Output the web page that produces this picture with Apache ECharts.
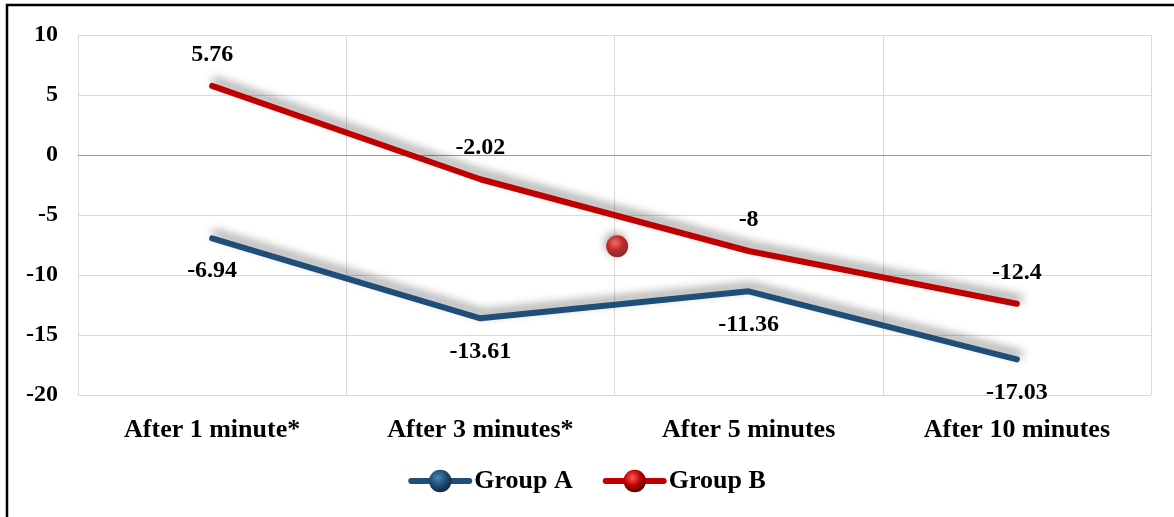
<!DOCTYPE html>
<html>
<head>
<meta charset="utf-8">
<script src="https://cdn.jsdelivr.net/npm/echarts@6/dist/echarts.min.js"></script>
<style>
  html, body { margin: 0; padding: 0; background: #fff; }
  #chart { width: 1174px; height: 517px; }
</style>
</head>
<body>
<div id="chart"></div>
<script>
// Time points after the intervention
const categories = ['After 1 minute*', 'After 3 minutes*', 'After 5 minutes', 'After 10 minutes'];
// Mean change per group
const groupA = [-6.94, -13.61, -11.36, -17.03];
const groupB = [5.76, -2.02, -8, -12.4];
// Loose marker for Group B sitting between the 3- and 5-minute readings: [position on category scale, value]
const looseMarkerB = [[1.51, -7.6]];
// Value axis range
const yMin = -20, yMax = 10, yStep = 5;

const FONT = '"Liberation Serif", "Times New Roman", serif';
const BLUE = '#1F4E79';
const RED = '#C00000';

function ball(base, light, dark) {
  return {
    type: 'radial', x: 0.4, y: 0.35, r: 0.65,
    colorStops: [
      { offset: 0, color: light },
      { offset: 0.55, color: base },
      { offset: 1, color: dark }
    ]
  };
}

const lineShadow = {
  shadowColor: 'rgba(0,0,0,0.45)',
  shadowBlur: 10,
  shadowOffsetX: 3,
  shadowOffsetY: -5
};

const labelStyle = {
  show: true,
  fontFamily: FONT,
  fontWeight: 'bold',
  fontSize: 24,
  color: '#000'
};

const chart = echarts.init(document.getElementById('chart'), null, { renderer: 'canvas' });

chart.setOption({
  animation: false,
  backgroundColor: '#fff',
  graphic: [{
    type: 'rect',
    shape: { x: 7, y: 5, width: 1300, height: 700 },
    style: { fill: 'none', stroke: '#000', lineWidth: 2.5 },
    silent: true,
    z: 100
  }],
  grid: { left: 78, right: 23, top: 35, bottom: 122, containLabel: false },
  legend: {
    bottom: 18,
    left: 'center',
    itemWidth: 58,
    itemHeight: 28,
    itemGap: 30,
    lineStyle: { width: 6, cap: 'round' },
    textStyle: { fontFamily: FONT, fontWeight: 'bold', fontSize: 26, color: '#000' },
    data: ['Group A', 'Group B']
  },
  xAxis: [{
    type: 'category',
    data: categories,
    boundaryGap: true,
    axisLine: { show: true, lineStyle: { color: '#d9d9d9', width: 1 } },
    axisTick: { show: false },
    axisLabel: { margin: 22, fontFamily: FONT, fontWeight: 'bold', fontSize: 26, color: '#000' },
    splitLine: { show: true, lineStyle: { color: '#d9d9d9', width: 1 } }
  }, {
    type: 'value',
    min: -0.5,
    max: 3.5,
    show: false
  }],
  yAxis: {
    type: 'value',
    min: yMin,
    max: yMax,
    interval: yStep,
    axisLine: { show: false },
    axisTick: { show: false },
    axisLabel: { margin: 20, fontFamily: FONT, fontWeight: 'bold', fontSize: 24, color: '#000' },
    splitLine: { show: true, lineStyle: { color: '#d9d9d9', width: 1 } }
  },
  series: [{
    name: 'Group A',
    type: 'line',
    data: groupA,
    symbol: 'circle',
    symbolSize: 0.01,
    showSymbol: true,
    itemStyle: { color: ball(BLUE, '#4f82b5', '#0f2a44') },
    lineStyle: Object.assign({ color: BLUE, width: 6, cap: 'round', join: 'round' }, lineShadow),
    label: Object.assign({ position: 'bottom', distance: 21 }, labelStyle),
    markLine: {
      silent: true,
      symbol: 'none',
      label: { show: false },
      lineStyle: { color: '#9a9a9a', width: 1, type: 'solid' },
      data: [{ yAxis: 0 }],
      z: 1
    },
    z: 3
  }, {
    name: 'Group B',
    type: 'line',
    data: groupB,
    symbol: 'circle',
    symbolSize: 0.01,
    showSymbol: true,
    itemStyle: { color: ball(RED, '#ff5a5a', '#5a0000') },
    lineStyle: Object.assign({ color: RED, width: 6, cap: 'round', join: 'round' }, lineShadow),
    label: Object.assign({ position: 'top', distance: 19 }, labelStyle),
    z: 3
  }, {
    name: 'Group B',
    type: 'scatter',
    xAxisIndex: 1,
    data: looseMarkerB,
    symbol: 'circle',
    symbolSize: 22,
    itemStyle: {
      color: ball(RED, '#ff6060', '#6a0000'),
      shadowColor: 'rgba(0,0,0,0.4)',
      shadowBlur: 8,
      shadowOffsetX: -2,
      shadowOffsetY: -3
    },
    label: { show: false },
    z: 4
  }]
});
</script>
</body>
</html>
